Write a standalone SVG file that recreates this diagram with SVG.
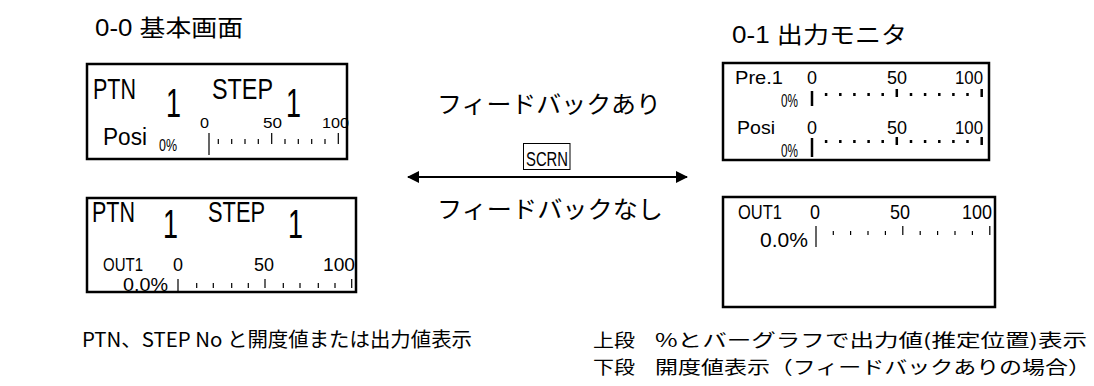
<svg xmlns="http://www.w3.org/2000/svg" width="1094" height="386" viewBox="0 0 1094 386">
<defs>
<style>
.bg{fill:#fff}
.box{fill:#fff;stroke:#000;stroke-width:2.5}
.lat{font-family:"Liberation Sans","Noto Sans CJK JP",sans-serif;fill:#000}
.jp{font-family:"Noto Sans CJK JP","Liberation Sans",sans-serif;fill:#000}
.tk{stroke:#000;stroke-width:1.2}
.tkb{stroke:#000;stroke-width:2.5}
.ln{stroke:#000;stroke-width:2;fill:none}
</style>
<marker id="ah" viewBox="0 0 12 12" refX="11" refY="6" markerWidth="12" markerHeight="12" markerUnits="userSpaceOnUse" orient="auto-start-reverse">
<path d="M0,0 L12,6 L0,12 Z" fill="#000"/>
</marker>
</defs>
<rect class="bg" x="0" y="0" width="1094" height="386"/>

<g id="title-left">
<text class="lat" x="95" y="36" font-size="23" textLength="148" lengthAdjust="spacingAndGlyphs">0-0 基本画面</text>
</g>
<g id="title-right">
<text class="lat" x="732" y="43" font-size="23" textLength="175" lengthAdjust="spacingAndGlyphs">0-1 出力モニタ</text>
</g>

<g id="screen-basic-fb">
<rect class="box" x="87" y="64" width="260" height="95"/>
<text class="lat" x="93" y="99" font-size="29" textLength="43" lengthAdjust="spacingAndGlyphs">PTN</text>
<text class="lat" x="166" y="117" font-size="40" textLength="15" lengthAdjust="spacingAndGlyphs">1</text>
<text class="lat" x="212" y="99" font-size="29" textLength="61" lengthAdjust="spacingAndGlyphs">STEP</text>
<text class="lat" x="286" y="117" font-size="40" textLength="15" lengthAdjust="spacingAndGlyphs">1</text>
<text class="lat" x="103" y="145" font-size="23" textLength="44" lengthAdjust="spacingAndGlyphs">Posi</text>
<text class="lat" x="159" y="151" font-size="17" textLength="18" lengthAdjust="spacingAndGlyphs">0%</text>
<text class="lat" x="200" y="128" font-size="15" textLength="9" lengthAdjust="spacingAndGlyphs">0</text>
<text class="lat" x="263" y="128" font-size="15" textLength="19" lengthAdjust="spacingAndGlyphs">50</text>
<text class="lat" x="322" y="128" font-size="15" textLength="27" lengthAdjust="spacingAndGlyphs">100</text>
<path class="tk" d="M209,133V155 M218.3,139V144 M231.7,139V144 M245,139V144 M258.3,139V144 M271.7,133V144 M285,139V144 M298.3,139V144 M311.7,139V144 M325,139V144 M338.3,133V144"/>
</g>

<g id="screen-basic-nofb">
<rect class="box" x="87" y="198" width="269" height="94"/>
<text class="lat" x="92" y="222" font-size="29" textLength="43" lengthAdjust="spacingAndGlyphs">PTN</text>
<text class="lat" x="163" y="238" font-size="40" textLength="15" lengthAdjust="spacingAndGlyphs">1</text>
<text class="lat" x="208" y="222" font-size="29" textLength="57" lengthAdjust="spacingAndGlyphs">STEP</text>
<text class="lat" x="288" y="238" font-size="40" textLength="15" lengthAdjust="spacingAndGlyphs">1</text>
<text class="lat" x="103" y="271" font-size="18" textLength="40" lengthAdjust="spacingAndGlyphs">OUT1</text>
<text class="lat" x="173" y="271" font-size="18" textLength="10" lengthAdjust="spacingAndGlyphs">0</text>
<text class="lat" x="254" y="271" font-size="18" textLength="20" lengthAdjust="spacingAndGlyphs">50</text>
<text class="lat" x="323" y="271" font-size="18" textLength="32" lengthAdjust="spacingAndGlyphs">100</text>
<text class="lat" x="123" y="291" font-size="18" textLength="45" lengthAdjust="spacingAndGlyphs">0.0%</text>
<path class="tk" d="M178,279V291 M196.7,283V288 M213.3,283V288 M231.7,283V288 M248.3,283V288 M265,279V288 M283.3,283V288 M300,283V288 M318.3,283V288 M335,283V288 M351.7,279V288"/>
</g>

<g id="screen-monitor-fb">
<rect class="box" x="723" y="63" width="266" height="97"/>
<text class="lat" x="735" y="84" font-size="19" textLength="48" lengthAdjust="spacingAndGlyphs">Pre.1</text>
<text class="lat" x="807" y="84" font-size="19" textLength="10" lengthAdjust="spacingAndGlyphs">0</text>
<text class="lat" x="887" y="84" font-size="19" textLength="20" lengthAdjust="spacingAndGlyphs">50</text>
<text class="lat" x="955" y="84" font-size="19" textLength="28" lengthAdjust="spacingAndGlyphs">100</text>
<text class="lat" x="781" y="107" font-size="19" textLength="17" lengthAdjust="spacingAndGlyphs">0%</text>
<path class="tkb" d="M812,91V106 M826.1,93V96 M840.3,93V96 M854.4,93V96 M868.6,93V96 M882.7,93V96 M896.8,89V97 M911,93V96 M925.1,93V96 M939.3,93V96 M953.4,93V96 M967.5,93V96 M981.7,89V97"/>
<text class="lat" x="737" y="134" font-size="19" textLength="38" lengthAdjust="spacingAndGlyphs">Posi</text>
<text class="lat" x="807" y="134" font-size="19" textLength="10" lengthAdjust="spacingAndGlyphs">0</text>
<text class="lat" x="887" y="134" font-size="19" textLength="20" lengthAdjust="spacingAndGlyphs">50</text>
<text class="lat" x="955" y="134" font-size="19" textLength="28" lengthAdjust="spacingAndGlyphs">100</text>
<text class="lat" x="781" y="157" font-size="19" textLength="17" lengthAdjust="spacingAndGlyphs">0%</text>
<path class="tkb" d="M812,138V157 M826.1,140V143 M840.3,140V143 M854.4,140V143 M868.6,140V143 M882.7,140V143 M896.8,137V145 M911,140V143 M925.1,140V143 M939.3,140V143 M953.4,140V143 M967.5,140V143 M981.7,137V145"/>
</g>

<g id="screen-monitor-nofb">
<rect class="box" x="723" y="197" width="272" height="110"/>
<text class="lat" x="738" y="219" font-size="21" textLength="44" lengthAdjust="spacingAndGlyphs">OUT1</text>
<text class="lat" x="810" y="219" font-size="21" textLength="10" lengthAdjust="spacingAndGlyphs">0</text>
<text class="lat" x="890" y="219" font-size="21" textLength="20" lengthAdjust="spacingAndGlyphs">50</text>
<text class="lat" x="962" y="219" font-size="21" textLength="30" lengthAdjust="spacingAndGlyphs">100</text>
<text class="lat" x="760" y="247" font-size="21" textLength="48" lengthAdjust="spacingAndGlyphs">0.0%</text>
<path class="tk" d="M816,226V247 M833.3,231V235 M850.6,231V235 M868,231V235 M885.4,231V235 M902.8,226V235 M920.2,231V235 M937.6,231V235 M955,231V235 M972.4,231V235 M989.8,226V235"/>
</g>

<g id="label-fb">
<text class="jp" x="437" y="113" font-size="24" textLength="224" lengthAdjust="spacingAndGlyphs">フィードバックあり</text>
</g>
<g id="key-scrn">
<rect x="523.5" y="143.5" width="46.5" height="26" fill="#fff" stroke="#000" stroke-width="1"/>
<text class="lat" x="526" y="166" font-size="21" textLength="42" lengthAdjust="spacingAndGlyphs">SCRN</text>
</g>
<g id="label-nofb">
<text class="jp" x="437" y="218" font-size="24" textLength="226" lengthAdjust="spacingAndGlyphs">フィードバックなし</text>
</g>

<g id="connectors">
<line class="ln" x1="408" y1="177" x2="687" y2="177" marker-start="url(#ah)" marker-end="url(#ah)"/>
</g>

<g id="caption-left">
<text class="jp" x="82" y="347" font-size="20" textLength="390" lengthAdjust="spacingAndGlyphs">PTN、STEP No と開度値または出力値表示</text>
</g>
<g id="caption-right">
<text class="jp" x="593" y="347" font-size="18" textLength="42" lengthAdjust="spacingAndGlyphs">上段</text>
<text class="jp" x="655" y="347" font-size="18" textLength="432" lengthAdjust="spacingAndGlyphs">%とバーグラフで出力値(推定位置)表示</text>
<text class="jp" x="593" y="374" font-size="18" textLength="42" lengthAdjust="spacingAndGlyphs">下段</text>
<text class="jp" x="655" y="374" font-size="18" textLength="436" lengthAdjust="spacingAndGlyphs">開度値表示（フィードバックありの場合）</text>
</g>
</svg>
